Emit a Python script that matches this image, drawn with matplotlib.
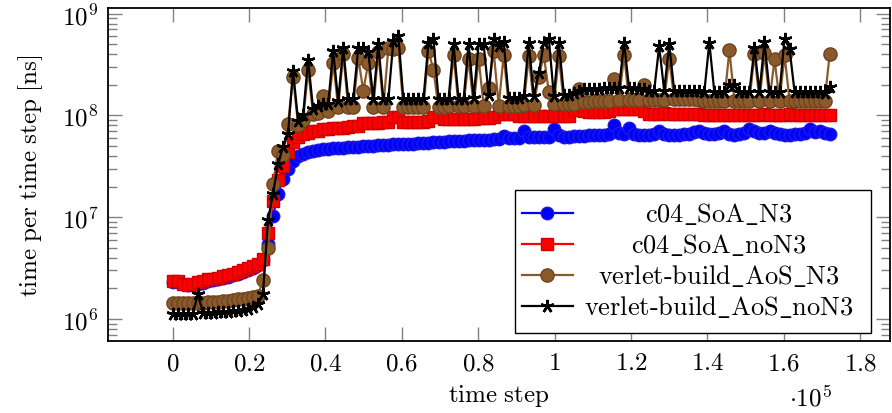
import numpy as np
import matplotlib
matplotlib.use("Agg")
import matplotlib.pyplot as plt
from matplotlib.ticker import FixedLocator, FuncFormatter, LogLocator, NullFormatter
from matplotlib.lines import Line2D
from matplotlib.patches import Rectangle

plt.rcParams['mathtext.fontset'] = 'cm'
plt.rcParams['font.family'] = ['DejaVu Serif']

# time steps (132 samples)
steps = np.arange(132) * 1313

# time per time step, in units of 1e6 ns
c04_soa_n3 = [
    2.3, 2.3, 2.2, 2.15, 2.15, 2.2, 2.25, 2.35, 2.4, 2.5, 2.55, 2.6, 2.7, 2.8, 2.9, 3.0, 3.2, 3.4,
    3.8, 5.4, 10.4, 17, 24, 30, 36, 40, 42, 44, 45, 46,
    46.5, 47, 47.5, 48, 48, 48.5, 49, 49.5, 50, 50, 50.5, 51, 51, 51.5, 52,
    52, 52.5, 53, 53, 53.5, 54, 54, 54.5, 55, 55, 55.5, 56, 56, 56.5, 57,
    57, 57.5, 58, 58, 58.5, 59, 63, 59.5, 60, 60.5, 70, 62, 61, 61, 61.5, 62, 73, 64, 62, 62,
    62.5, 63, 63, 64, 64, 65, 65, 66, 80, 68, 66, 75, 66, 65, 65, 65, 66, 70, 66, 65,
    65, 65, 65.5, 66, 69, 70, 68, 66, 66, 67, 71, 66, 65, 66, 68, 73, 70, 67, 68, 71,
    67, 66, 65, 65, 66, 66, 68, 73, 69, 71, 68, 66,
]
c04_soa_non3 = [
    2.35, 2.35, 2.2, 2.15, 2.2, 2.3, 2.35, 2.45, 2.5, 2.55, 2.65, 2.7, 2.8, 2.9, 3.0, 3.15, 3.3, 3.5,
    3.9, 7.0, 14.6, 23, 32, 44, 55, 61, 66, 68, 70, 71,
    73, 74, 75, 76, 76, 77, 78, 79, 84, 85, 85, 85, 86, 86, 97,
    97, 87, 87, 87, 87, 87, 88, 97, 97, 92, 92, 92, 92, 93, 93,
    93, 94, 94, 95, 96, 103, 103, 103, 103, 98, 98, 99, 98, 98, 98, 99, 99, 98, 99, 99,
    112, 112, 110, 108, 108, 108, 109, 110, 116, 116, 116, 116, 116, 115, 110, 104, 104, 104, 105, 104,
    104, 104, 103, 104, 104, 103, 101, 100, 100, 101, 102, 100, 100, 101, 100, 102, 100, 100, 104, 101,
    100, 101, 100, 104, 102, 100, 100, 101, 100, 100, 100, 100,
]
verlet_aos_n3 = [
    1.43, 1.43, 1.43, 1.44, 1.44, 1.45, 1.45, 1.46, 1.47, 1.48, 1.5, 1.52, 1.54, 1.56, 1.58, 1.62, 1.66, 1.7,
    2.4, 5.0, 21, 45, 41, 83, 240, 80, 90, 280, 103, 105,
    155, 110, 330, 120, 400, 120, 120, 367, 175, 330, 120, 420, 120, 460, 450,
    460, 120, 120, 120, 120, 120, 430, 280, 120, 120, 125, 390, 125, 125, 360,
    125, 360, 125, 185, 430, 125, 390, 125, 125, 125, 128, 380, 128, 240, 390, 170, 130, 380, 130, 130,
    130, 180, 135, 135, 140, 140, 140, 140, 230, 142, 390, 142, 142, 142, 200, 142, 142, 142, 142, 360,
    145, 145, 145, 145, 145, 142, 140, 140, 140, 140, 140, 440, 140, 140, 140, 140, 400, 140, 410, 140,
    355, 140, 390, 140, 140, 140, 140, 140, 140, 140, 140, 400,
]
verlet_aos_non3 = [
    1.12, 1.12, 1.12, 1.12, 1.12, 1.77, 1.15, 1.15, 1.15, 1.17, 1.17, 1.18, 1.2, 1.2, 1.22, 1.25, 1.32, 1.4,
    1.77, 9.3, 17, 33, 49, 66, 275, 89, 100, 350, 116, 123,
    130, 130, 430, 140, 460, 145, 145, 460, 460, 420, 145, 500, 145, 145, 540,
    600, 145, 145, 145, 145, 145, 520, 560, 145, 145, 145, 500, 145, 145, 500,
    150, 500, 500, 160, 560, 480, 530, 150, 150, 150, 155, 520, 155, 260, 520, 570, 155, 520, 160, 160,
    165, 175, 180, 180, 180, 180, 185, 185, 185, 185, 520, 185, 185, 180, 180, 175, 175, 480, 175, 500,
    175, 175, 175, 175, 175, 175, 170, 520, 170, 170, 170, 200, 200, 170, 170, 170, 460, 170, 530, 170,
    170, 170, 570, 450, 170, 170, 170, 170, 170, 170, 165, 190,
]

labels = ["c04_SoA_N3", "c04_SoA_noN3", "verlet-build_AoS_N3", "verlet-build_AoS_noN3"]
xtick_vals = [0, 0.2, 0.4, 0.6, 0.8, 1.0, 1.2, 1.4, 1.6, 1.8]

brown = '#8b5a2b'
styles = [
    dict(color='#0000ff', marker='o', ms=9, mfc='#0000ff', mec='#1a1ae0', mew=1.0, lw=1.6),
    dict(color='#ff0000', marker='s', ms=8.5, mfc='#ff0000', mec='#d00000', mew=1.0, lw=1.6),
    dict(color=brown, marker='o', ms=9.5, mfc=brown, mec='#6e4420', mew=1.0, lw=1.6),
    dict(color='black', marker=(5, 2, 0), ms=9.5, mfc='black', mec='black', mew=1.8, lw=1.6),
]
series = [c04_soa_n3, c04_soa_non3, verlet_aos_n3, verlet_aos_non3]


def tex_label(s):
    # hyphen as text, underscores escaped, rest upright
    parts = [r'\mathrm{%s}' % p.replace('_', r'\_') for p in s.split('-')]
    return '$' + r'\text{-}'.join(parts) + '$'


fig = plt.figure(figsize=(8.92, 4.14), dpi=100)
ax = fig.add_axes([0.1214, 0.1732, 0.8764, 0.8051])

for vals, st in zip(series, styles):
    ax.plot(steps, np.array(vals) * 1e6, **st)

ax.set_yscale('log')
ax.set_xlim(-16860, 187800)
ax.set_ylim(6.04e5, 1.138e9)

ax.xaxis.set_major_locator(FixedLocator([v * 1e5 for v in xtick_vals]))
ax.xaxis.set_major_formatter(FuncFormatter(lambda v, p: '$%g$' % round(v / 1e5, 1)))
ax.yaxis.set_major_locator(LogLocator(base=10, numticks=10))
ax.yaxis.set_minor_locator(LogLocator(base=10, subs=np.arange(2, 10), numticks=20))
ax.yaxis.set_minor_formatter(NullFormatter())
ax.yaxis.set_major_formatter(FuncFormatter(lambda v, p: '$10^{%d}$' % round(np.log10(v))))

ax.tick_params(which='both', direction='in', top=True, right=True, color='#808080',
               width=1.0, labelsize=18)
ax.tick_params(which='major', length=10, pad=7)
ax.tick_params(which='minor', length=6.5)
for s in ax.spines.values():
    s.set_linewidth(1.3)

ax.set_xlabel(r'$\mathrm{time\ step}$', fontsize=18, labelpad=6)
ax.set_ylabel(r'$\mathrm{time\ per\ time\ step\ [ns]}$', fontsize=18)
ax.yaxis.set_label_coords(-0.081, 0.5)
ax.text(0.898, -0.167, r'$\cdot 10^5$', transform=ax.transAxes, fontsize=18,
        ha='center', va='center')

# legend drawn as in pgfplots: centered labels
ax.add_patch(Rectangle((0.520, 0.025), 0.456, 0.430, transform=ax.transAxes,
                       facecolor='white', edgecolor='black', lw=1.0, zorder=5))
for k, (lab, st) in enumerate(zip(labels, styles)):
    y = 0.385 - k * 0.093
    ax.add_line(Line2D([0.529, 0.594], [y, y], transform=ax.transAxes, color=st['color'],
                       lw=st['lw'], zorder=6))
    ax.add_line(Line2D([0.5618], [y], transform=ax.transAxes, linestyle='none',
                       marker=st['marker'], ms=st['ms'], mfc=st['mfc'], mec=st['mec'],
                       mew=st['mew'], zorder=7))
    ax.text(0.781, y, tex_label(lab), transform=ax.transAxes,
            fontsize=19, ha='center', va='center', zorder=7)

fig.savefig('out.png', dpi=100)
